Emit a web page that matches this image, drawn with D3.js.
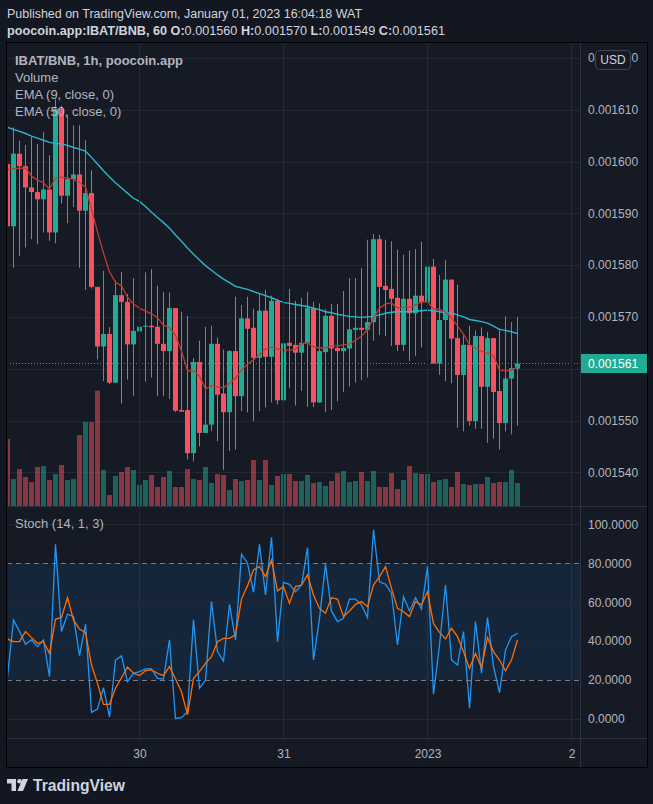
<!DOCTYPE html>
<html><head><meta charset="utf-8">
<script src="https://cdn.jsdelivr.net/npm/d3@7/dist/d3.min.js"></script>
<style>
html,body{margin:0;padding:0;background:#131722;overflow:hidden;}
svg{display:block;}
text{font-family:"Liberation Sans",Arial,sans-serif;}
</style></head><body>
<svg id="chart" width="653" height="804"></svg>
<script>
// ---------- DATA ----------
const opens = [1599.5,1587.5,1601.5,1599.1,1595.0,1594.1,1592.7,1594.6,1586.3,1610.2,1593.4,1596.6,1597.5,1590.5,1593.9,1575.8,1564.3,1566.7,1557.3,1574.2,1572.9,1564.7,1567.2,1568.1,1568.3,1568.1,1564.8,1563.4,1571.7,1552.0,1552.0,1543.7,1561.3,1547.6,1549.2,1564.8,1555.2,1551.6,1563.4,1554.7,1569.7,1567.9,1562.1,1571.2,1562.3,1573.1,1553.9,1565.0,1564.6,1563.1,1565.0,1571.7,1553.5,1563.2,1570.2,1564.0,1563.4,1563.9,1567.5,1567.9,1567.5,1569.0,1585.0,1576.0,1575.4,1573.7,1564.6,1573.5,1570.7,1574.1,1572.8,1579.7,1561.0,1569.4,1577.2,1565.9,1558.8,1564.6,1549.9,1566.3,1556.5,1565.9,1555.7,1549.5,1558.1,1560.0].map(v=>v/1e6);
const highs = [1607.9,1606.6,1604.0,1603.2,1604.7,1603.4,1605.7,1601.2,1612.0,1610.8,1608.9,1607.0,1607.0,1604.1,1598.3,1575.8,1578.9,1568.0,1577.0,1578.7,1574.4,1577.5,1576.6,1578.6,1579.2,1576.0,1574.8,1574.7,1571.7,1571.0,1570.2,1562.1,1565.4,1568.1,1568.3,1566.0,1563.7,1563.6,1573.9,1572.3,1573.9,1571.6,1574.4,1575.2,1574.1,1573.5,1575.2,1575.4,1573.1,1573.7,1574.8,1572.9,1572.6,1571.5,1572.5,1572.5,1575.0,1577.5,1577.5,1579.4,1584.9,1586.0,1585.8,1584.9,1584.6,1583.0,1582.0,1582.8,1583.1,1584.5,1583.7,1581.2,1578.1,1581.0,1577.2,1576.2,1566.5,1568.3,1567.4,1568.0,1567.1,1565.9,1567.8,1570.1,1569.0,1570.0].map(v=>v/1e6);
const lows = [1583.7,1579.5,1581.8,1583.4,1585.0,1584.0,1586.3,1584.7,1584.2,1591.9,1588.1,1591.2,1579.5,1575.2,1575.5,1561.8,1557.6,1557.0,1557.3,1553.3,1557.9,1554.8,1553.9,1557.5,1558.3,1554.7,1554.7,1554.2,1551.6,1551.7,1542.5,1542.1,1545.0,1547.6,1547.9,1546.0,1540.5,1544.1,1544.4,1551.8,1551.6,1549.9,1551.8,1552.5,1553.5,1553.1,1553.9,1556.3,1552.9,1555.7,1552.6,1552.6,1553.4,1551.6,1552.0,1553.7,1555.5,1556.6,1557.3,1557.8,1558.3,1565.4,1566.5,1566.3,1564.4,1563.4,1563.4,1561.5,1562.5,1564.1,1562.8,1561.0,1558.8,1557.6,1557.2,1548.6,1547.9,1549.0,1548.4,1548.4,1545.7,1546.5,1544.4,1547.9,1547.3,1549.0].map(v=>v/1e6);
const closes = [1587.5,1601.5,1599.1,1595.0,1594.1,1592.7,1594.6,1586.3,1610.2,1593.4,1596.6,1597.5,1590.5,1593.9,1575.8,1564.3,1566.7,1557.3,1574.2,1572.9,1564.7,1567.3,1568.1,1568.3,1568.0,1564.8,1563.4,1571.7,1551.9,1551.7,1543.7,1561.3,1547.6,1549.2,1564.8,1555.0,1551.6,1563.4,1554.7,1569.7,1567.7,1562.1,1571.2,1562.3,1573.1,1553.9,1564.9,1564.4,1563.1,1565.0,1571.7,1553.5,1563.4,1570.2,1563.9,1563.4,1564.0,1567.6,1567.9,1567.5,1569.0,1585.0,1575.8,1575.2,1573.5,1564.6,1573.5,1570.7,1574.1,1572.8,1579.7,1561.0,1569.4,1577.2,1565.8,1558.8,1564.6,1549.9,1566.3,1556.5,1565.9,1555.5,1549.5,1558.1,1560.1,1561.0].map(v=>v/1e6);
const volumes = [201,81,111,87,72,117,120,78,96,123,78,81,213,252,252,346,108,33,90,102,117,108,63,78,93,57,87,105,57,57,111,81,78,117,69,96,93,48,81,75,78,138,78,138,63,90,96,96,75,75,93,69,72,60,75,99,105,72,75,102,75,105,57,57,99,51,78,120,99,96,96,72,78,81,57,102,66,63,66,66,87,69,72,72,108,69];
const ema9 = [1598.4,1598.6,1598.7,1598.7,1597.2,1596.4,1595.9,1594.7,1596.8,1597.0,1596.8,1596.6,1595.9,1595.1,1590.8,1586.4,1582.3,1578.7,1576.7,1576.0,1573.8,1572.5,1571.7,1571.1,1570.6,1569.8,1568.4,1567.9,1566.5,1563.4,1559.6,1559.6,1558.6,1556.1,1556.7,1556.5,1556.3,1557.2,1558.2,1559.7,1560.9,1561.7,1562.8,1563.8,1564.2,1563.8,1563.6,1563.6,1563.8,1564.8,1565.0,1564.2,1564.0,1564.0,1564.4,1564.4,1564.6,1564.8,1565.5,1566.3,1567.5,1569.8,1571.7,1572.5,1572.7,1571.7,1571.9,1571.9,1572.3,1572.9,1572.9,1571.5,1571.5,1570.9,1569.8,1568.2,1566.7,1564.6,1564.0,1563.4,1563.0,1562.5,1559.7,1559.6,1559.7,1560.3].map(v=>v/1e6);
const ema50 = [1606.6,1606.2,1605.8,1605.4,1604.9,1604.5,1604.1,1603.7,1603.5,1603.4,1603.1,1602.7,1602.4,1602.0,1600.8,1599.5,1598.2,1597.0,1595.9,1594.9,1593.9,1592.9,1592.3,1591.3,1590.2,1589.2,1588.2,1587.1,1585.8,1584.6,1583.3,1582.1,1581.0,1579.9,1579.0,1578.1,1577.3,1576.6,1575.9,1575.6,1575.3,1574.9,1574.5,1574.1,1573.7,1573.2,1572.8,1572.6,1572.4,1572.2,1572.0,1571.7,1571.4,1571.0,1570.8,1570.5,1570.3,1570.1,1570.0,1569.9,1570.0,1570.1,1570.4,1570.7,1570.9,1571.0,1571.0,1571.0,1571.1,1571.2,1571.3,1571.2,1571.0,1570.8,1570.7,1570.4,1570.0,1569.5,1569.3,1569.1,1568.8,1568.2,1567.6,1567.4,1567.1,1566.8].map(v=>v/1e6);
const stochK = [21.7,50.9,44.9,38.4,40.6,37.2,40.6,21.7,89.7,44.9,53.8,52.6,32.5,48.6,3.4,5.1,16.1,1.0,30.3,32.4,19.2,23.5,24.3,25.7,25.7,20.9,20.5,40.6,0.3,0.7,3.8,50.9,15.8,20.0,60.3,34.6,29.8,58.9,40.6,84.6,80.0,65.1,89.7,63.7,93.3,39.7,70.2,69.2,65.4,68.8,88.0,30.3,51.7,79.5,55.5,50.0,51.7,61.6,61.6,58.6,52.1,97.1,70.5,69.2,64.6,38.0,62.8,55.5,62.3,56.5,78.3,12.7,38.0,68.8,30.3,27.7,44.9,5.5,50.0,23.5,52.1,26.9,13.5,35.4,42.3,44.0];
const stochD = [41.1,39.7,39.7,44.9,41.8,38.9,39.7,33.7,51.2,52.2,62.3,50.9,46.2,44.3,27.7,18.3,7.5,7.5,15.8,21.2,26.7,23.5,22.3,24.8,25.2,23.5,22.3,26.9,20.5,14.0,2.1,20.9,24.3,28.6,32.0,39.7,41.4,41.4,43.2,61.6,68.5,76.5,78.3,73.1,81.7,65.8,68.0,59.4,68.0,68.8,74.0,63.7,56.8,54.3,62.3,61.6,52.6,55.5,58.9,60.3,57.7,68.8,73.1,78.3,67.1,56.8,55.1,52.6,60.3,58.6,65.4,49.1,44.5,41.1,46.6,42.3,34.6,26.0,33.7,26.4,41.8,34.6,30.3,24.8,30.3,40.6];
const dayTickIdx = [22, 46, 70, 94];
const dayLabels = ["30", "31", "2023", "2"];
const priceTicks = [0.00154,0.00155,0.00156,0.00157,0.00158,0.00159,0.00160,0.00161,0.00162];
const stochTicks = [0,20,40,60,80,100];
const lastPrice = 0.001561;

// ---------- LAYOUT ----------
const svg = d3.select("#chart");
const L = 7, R = 580, FR = 647, TOP = 43, MB = 506, ST = 507, SB = 738, FB = 767;
const UP = "#22ab94", DN = "#f7525f";
const gridC = "#242834", lineC = "#2e3240", txtC = "#b2b5be";

svg.append("rect").attr("width",653).attr("height",804).attr("fill","#131722");
svg.append("rect").attr("x",L).attr("y",TOP).attr("width",FR-L).attr("height",FB-TOP).attr("fill","#161a25");

const defs = svg.append("defs");
defs.append("clipPath").attr("id","cMain").append("rect").attr("x",L+1).attr("y",TOP).attr("width",R-L-1).attr("height",MB-TOP);
defs.append("clipPath").attr("id","cSt").append("rect").attr("x",L+1).attr("y",ST).attr("width",R-L-1).attr("height",SB-ST);

const x = d3.scaleLinear().domain([0, opens.length-1]).range([7, 517]);
const y = d3.scaleLinear().domain([0.00154, 0.00161]).range([472.3, 109.7]);
const yv = d3.scaleLinear().domain([0, d3.max(volumes)]).range([MB, MB-115.3]);
const ys = d3.scaleLinear().domain([0,100]).range([719, 524.3]);

// grids
const gMain = svg.append("g").attr("clip-path","url(#cMain)");
gMain.selectAll(".hg").data(priceTicks).join("line")
  .attr("x1",L).attr("x2",R).attr("y1",d=>Math.round(y(d))+0.5).attr("y2",d=>Math.round(y(d))+0.5)
  .attr("stroke",gridC);
svg.selectAll(".vg").data(dayTickIdx).join("line")
  .attr("x1",d=>Math.round(x(d))+0.5).attr("x2",d=>Math.round(x(d))+0.5)
  .attr("y1",TOP).attr("y2",SB+3).attr("stroke",gridC);

// volume
gMain.selectAll(".vol").data(volumes).join("rect")
  .attr("x",(d,i)=>x(i)-2).attr("width",5)
  .attr("y",d=>yv(d)).attr("height",d=>MB-yv(d))
  .attr("fill",(d,i)=>closes[i]>=opens[i]?"rgba(34,171,148,0.5)":"rgba(247,82,95,0.5)");

// candles
const cg = gMain.append("g");
opens.forEach((o,i)=>{
  const c = closes[i], col = c>=o?UP:DN, xi = x(i);
  cg.append("rect").attr("x",xi).attr("width",1)
    .attr("y",y(highs[i])).attr("height",Math.max(1,y(lows[i])-y(highs[i]))).attr("fill",col);
  const t = y(Math.max(o,c)), b = y(Math.min(o,c));
  cg.append("rect").attr("x",xi-2).attr("width",5)
    .attr("y",t).attr("height",Math.max(1.2,b-t)).attr("fill",col);
});

// EMA lines
const lineP = d3.line().x((d,i)=>x(i)+0.5).y(d=>y(d));
gMain.append("path").attr("d",lineP(ema50)).attr("fill","none").attr("stroke","#2bb7c9").attr("stroke-width",1.4);
gMain.append("path").attr("d",lineP(ema9)).attr("fill","none").attr("stroke","#c23a2f").attr("stroke-width",1.3);

// last price dotted line
gMain.append("line").attr("x1",L).attr("x2",R).attr("y1",y(lastPrice)).attr("y2",y(lastPrice))
  .attr("stroke",UP).attr("stroke-dasharray","1,2").attr("stroke-width",1);

// stoch pane
const gSt = svg.append("g").attr("clip-path","url(#cSt)");
gSt.append("rect").attr("x",L).attr("width",R-L).attr("y",ys(80)).attr("height",ys(20)-ys(80)).attr("fill","rgba(33,150,243,0.1)");
gSt.selectAll(".sg").data([0,40,60,100]).join("line")
  .attr("x1",L).attr("x2",R).attr("y1",d=>Math.round(ys(d))+0.5).attr("y2",d=>Math.round(ys(d))+0.5).attr("stroke",gridC);
gSt.selectAll(".sd").data([80,20]).join("line")
  .attr("x1",L).attr("x2",R).attr("y1",d=>Math.round(ys(d))+0.5).attr("y2",d=>Math.round(ys(d))+0.5)
  .attr("stroke","#787b86").attr("stroke-dasharray","5,4");
const lineS = d3.line().x((d,i)=>x(i)+0.5).y(d=>ys(d));
gSt.append("path").attr("d",lineS(stochK)).attr("fill","none").attr("stroke","#2196f3").attr("stroke-width",1.3);
gSt.append("path").attr("d",lineS(stochD)).attr("fill","none").attr("stroke","#ff6d00").attr("stroke-width",1.3);

// separators
svg.append("line").attr("x1",L).attr("x2",FR).attr("y1",MB+0.5).attr("y2",MB+0.5).attr("stroke",lineC);
svg.append("line").attr("x1",L).attr("x2",FR).attr("y1",SB+0.5).attr("y2",SB+0.5).attr("stroke",lineC);
svg.append("line").attr("x1",R+0.5).attr("x2",R+0.5).attr("y1",TOP).attr("y2",FB).attr("stroke",lineC);

// axes (price labels hidden under the last-price label are not drawn, as in the source)
const visibleTicks = priceTicks.filter(d=>Math.abs(y(d)-y(lastPrice))>10);
const pAxis = svg.append("g").attr("transform",`translate(${R},0)`)
  .call(d3.axisRight(y).tickValues(visibleTicks).tickFormat(d3.format(".6f")).tickSize(0).tickPadding(8));
const sAxis = svg.append("g").attr("transform",`translate(${R},0)`)
  .call(d3.axisRight(ys).tickValues(stochTicks).tickFormat(d3.format(".4f")).tickSize(0).tickPadding(8));
const tAxis = svg.append("g").attr("transform",`translate(0,${SB})`)
  .call(d3.axisBottom(x).tickValues(dayTickIdx).tickFormat((d,i)=>dayLabels[i]).tickSize(0).tickPadding(11));
[pAxis,sAxis,tAxis].forEach(g=>{
  g.select(".domain").remove();
  g.selectAll("text").attr("fill",txtC).attr("font-size",12).attr("font-family","Liberation Sans, Arial, sans-serif");
});
tAxis.selectAll("text").attr("x",0.5);

// USD box
svg.append("rect").attr("x",595.5).attr("y",50.5).attr("width",35).attr("height",19).attr("rx",4)
  .attr("fill","#161a25").attr("stroke","#434651");
svg.append("text").attr("x",613).attr("y",64).attr("text-anchor","middle").attr("fill","#d1d4dc").attr("font-size",12).text("USD");

// last price label
svg.append("rect").attr("x",R+1).attr("y",y(lastPrice)-9.5).attr("width",FR-R-1).attr("height",19).attr("fill",UP);
svg.append("text").attr("x",588).attr("y",y(lastPrice)+4.3).attr("fill","#ffffff").attr("font-size",12).text(d3.format(".6f")(lastPrice));

// frame border
svg.append("rect").attr("x",L-0.5).attr("y",TOP-0.5).attr("width",FR-L+1).attr("height",FB-TOP+1)
  .attr("fill","none").attr("stroke","#000");

// legends
const leg = [["IBAT/BNB, 1h, poocoin.app",65,"bold"],["Volume",82,"normal"],["EMA (9, close, 0)",99,"normal"],["EMA (50, close, 0)",116,"normal"]];
leg.forEach(([t,yy,w])=>svg.append("text").attr("x",15).attr("y",yy).attr("fill","#b2b5be").attr("font-size",13).attr("font-weight",w).text(t));
svg.append("text").attr("x",15).attr("y",528).attr("fill","#b2b5be").attr("font-size",13).text("Stoch (14, 1, 3)");

// header
svg.append("text").attr("x",7).attr("y",18).attr("fill","#d1d4dc").attr("font-size",12.5)
  .attr("textLength",355).attr("lengthAdjust","spacingAndGlyphs")
  .text("Published on TradingView.com, January 01, 2023 16:04:18 WAT");
const h2 = svg.append("text").attr("x",7).attr("y",35).attr("fill","#d1d4dc").attr("font-size",12.5)
  .attr("textLength",438).attr("lengthAdjust","spacingAndGlyphs");
[["poocoin.app:IBAT/BNB, 60 ","bold"],["O:","bold"],["0.001560 ","normal"],["H:","bold"],["0.001570 ","normal"],["L:","bold"],["0.001549 ","normal"],["C:","bold"],["0.001561","normal"]]
  .forEach(([t,w])=>h2.append("tspan").attr("font-weight",w).text(t));

// footer logo
const lg = svg.append("g").attr("fill","#d1d4dc");
lg.append("path").attr("d","M7,779 H16 V791 H11.5 V783.5 H7 Z");
lg.append("circle").attr("cx",19.5).attr("cy",781.3).attr("r",2.3);
lg.append("path").attr("d","M22.5,779 H28 L23,791 H17.5 Z");
svg.append("text").attr("x",33).attr("y",791).attr("fill","#d1d4dc").attr("font-size",17).attr("font-weight","bold")
  .attr("textLength",92).attr("lengthAdjust","spacingAndGlyphs").text("TradingView");
</script>
</body></html>
